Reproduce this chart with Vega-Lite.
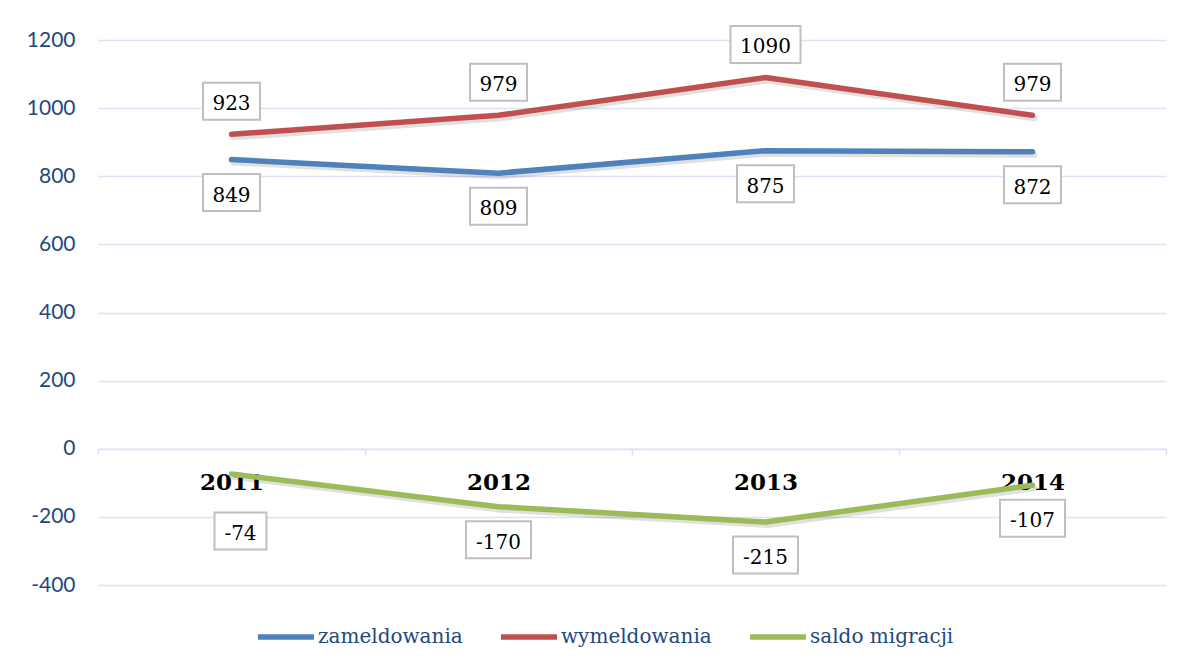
{
  "$schema": "https://vega.github.io/schema/vega-lite/v6.json",
  "width": 1068,
  "height": 545,
  "autosize": {"type": "none"},
  "padding": {"left": 98, "top": 40, "right": 19, "bottom": 83},
  "background": "white",
  "config": {"view": {"stroke": null}},
  "data": {
    "values": [
      {"year": "2011", "series": "zameldowania", "value": 849},
      {"year": "2012", "series": "zameldowania", "value": 809},
      {"year": "2013", "series": "zameldowania", "value": 875},
      {"year": "2014", "series": "zameldowania", "value": 872},
      {"year": "2011", "series": "wymeldowania", "value": 923},
      {"year": "2012", "series": "wymeldowania", "value": 979},
      {"year": "2013", "series": "wymeldowania", "value": 1090},
      {"year": "2014", "series": "wymeldowania", "value": 979},
      {"year": "2011", "series": "saldo migracji", "value": -74},
      {"year": "2012", "series": "saldo migracji", "value": -170},
      {"year": "2013", "series": "saldo migracji", "value": -215},
      {"year": "2014", "series": "saldo migracji", "value": -107}
    ]
  },
  "encoding": {
    "x": {
      "field": "year",
      "type": "ordinal",
      "scale": {"type": "band", "paddingInner": 0, "paddingOuter": 0},
      "axis": {
        "title": null,
        "orient": "bottom",
        "offset": -136.25,
        "domain": true,
        "domainColor": "#D9E3F3",
        "domainWidth": 1.5,
        "ticks": true,
        "tickBand": "extent",
        "tickSize": 6,
        "tickColor": "#D9E3F3",
        "tickWidth": 1.5,
        "grid": false,
        "labelAngle": 0,
        "labelFont": "DejaVu Serif",
        "labelFontWeight": "bold",
        "labelFontSize": 23,
        "labelColor": "#000000",
        "labelPadding": 17
      }
    },
    "y": {
      "field": "value",
      "type": "quantitative",
      "scale": {"domain": [-400, 1200], "nice": false, "zero": false},
      "axis": {
        "title": null,
        "values": [-400, -200, 0, 200, 400, 600, 800, 1000, 1200],
        "labelExpr": "'' + datum.value",
        "domain": false,
        "ticks": false,
        "tickSize": 0,
        "grid": true,
        "gridColor": "#D9E3F3",
        "gridWidth": 1.5,
        "labelFont": "Lato",
        "labelFontSize": 21,
        "labelColor": "#1F497D",
        "labelPadding": 23
      }
    }
  },
  "layer": [
    {
      "mark": {"type": "line", "interpolate": "linear", "strokeWidth": 6, "color": "#000000", "opacity": 0.12, "xOffset": 2, "yOffset": 3, "strokeCap": "round", "strokeJoin": "round"},
      "encoding": {"detail": {"field": "series", "type": "nominal"}}
    },
    {
      "mark": {"type": "line", "interpolate": "linear", "strokeWidth": 5.5, "strokeCap": "round", "strokeJoin": "round"},
      "encoding": {
        "color": {
          "field": "series",
          "type": "nominal",
          "scale": {
            "domain": ["zameldowania", "wymeldowania", "saldo migracji"],
            "range": ["#4F81BD", "#C0504D", "#9BBB59"]
          },
          "legend": {
            "title": null,
            "orient": "none",
            "legendX": 157,
            "legendY": 566,
            "direction": "horizontal",
            "padding": 0,
            "symbolType": "stroke",
            "symbolSize": 3136,
            "symbolStrokeWidth": 5.5,
            "labelOffset": 1,
            "columnPadding": 27,
            "labelFont": "DejaVu Serif",
            "labelFontSize": 20,
            "labelColor": "#1F497D"
          }
        }
      }
    },
    {
      "transform": [{"filter": "datum.series == 'wymeldowania' && datum.value < 1000"}],
      "mark": {"type": "point", "shape": "M-28.5,-18.5H28.5V18.5H-28.5Z", "size": 4, "filled": true, "fill": "#FFFFFF", "stroke": "#BFBFBF", "strokeWidth": 2, "opacity": 1, "yOffset": -33}
    },
    {
      "transform": [{"filter": "datum.series == 'wymeldowania' && datum.value >= 1000"}],
      "mark": {"type": "point", "shape": "M-35,-18.5H35V18.5H-35Z", "size": 4, "filled": true, "fill": "#FFFFFF", "stroke": "#BFBFBF", "strokeWidth": 2, "opacity": 1, "yOffset": -33}
    },
    {
      "transform": [{"filter": "datum.series == 'zameldowania'"}],
      "mark": {"type": "point", "shape": "M-28.5,-18.5H28.5V18.5H-28.5Z", "size": 4, "filled": true, "fill": "#FFFFFF", "stroke": "#BFBFBF", "strokeWidth": 2, "opacity": 1, "yOffset": 33}
    },
    {
      "transform": [{"filter": "datum.series == 'saldo migracji' && datum.value < -99"}],
      "mark": {"type": "point", "shape": "M-32.5,-18.5H32.5V18.5H-32.5Z", "size": 4, "filled": true, "fill": "#FFFFFF", "stroke": "#BFBFBF", "strokeWidth": 2, "opacity": 1, "yOffset": 33}
    },
    {
      "transform": [{"filter": "datum.series == 'saldo migracji' && datum.value >= -99"}],
      "mark": {"type": "point", "shape": "M-26,-18.5H26V18.5H-26Z", "size": 4, "filled": true, "fill": "#FFFFFF", "stroke": "#BFBFBF", "strokeWidth": 2, "opacity": 1, "xOffset": 9, "yOffset": 57}
    },
    {
      "transform": [{"filter": "datum.series == 'wymeldowania'"}],
      "mark": {"type": "text", "font": "DejaVu Serif", "fontSize": 20, "color": "#000000", "baseline": "middle", "align": "center", "yOffset": -30},
      "encoding": {"text": {"field": "value", "type": "nominal"}}
    },
    {
      "transform": [{"filter": "datum.series == 'zameldowania' || (datum.series == 'saldo migracji' && datum.value < -99)"}],
      "mark": {"type": "text", "font": "DejaVu Serif", "fontSize": 20, "color": "#000000", "baseline": "middle", "align": "center", "yOffset": 36},
      "encoding": {"text": {"field": "value", "type": "nominal"}}
    },
    {
      "transform": [{"filter": "datum.series == 'saldo migracji' && datum.value >= -99"}],
      "mark": {"type": "text", "font": "DejaVu Serif", "fontSize": 20, "color": "#000000", "baseline": "middle", "align": "center", "xOffset": 9, "yOffset": 60},
      "encoding": {"text": {"field": "value", "type": "nominal"}}
    }
  ]
}
